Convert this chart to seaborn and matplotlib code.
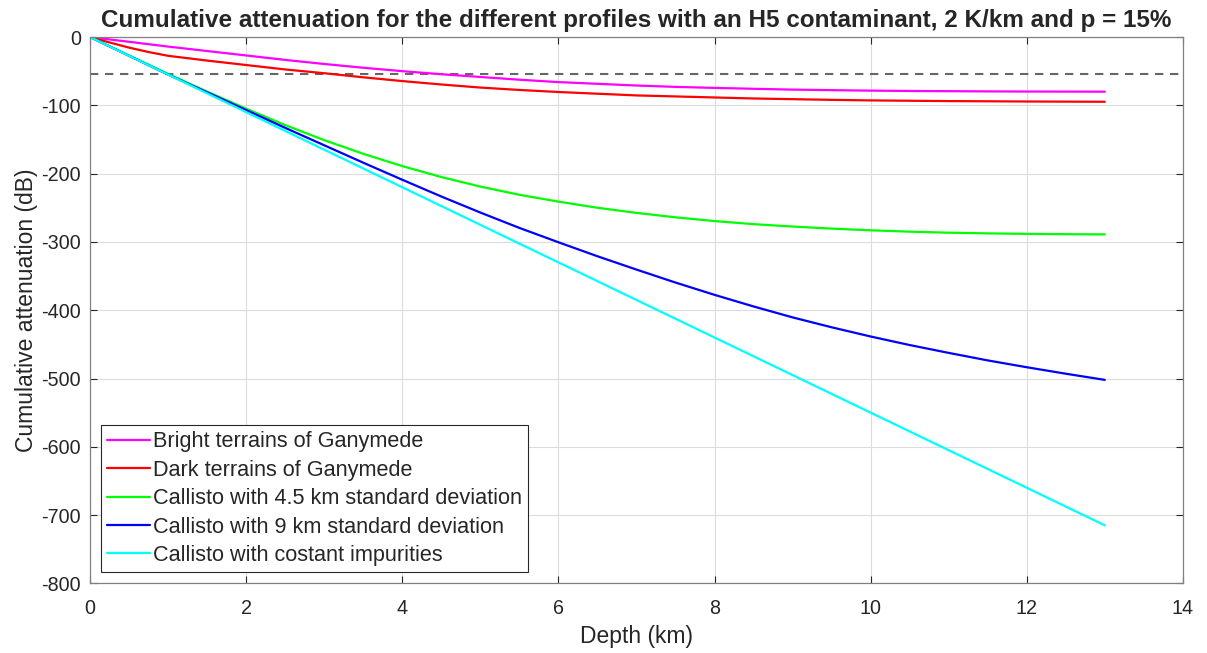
import numpy as np
import pandas as pd
import matplotlib
matplotlib.use("Agg")
import matplotlib.pyplot as plt
import seaborn as sns

# Depth samples (km)
depth = [0, 0.25, 0.5, 0.75, 1, 1.5, 2, 2.5, 3, 3.5, 4, 4.5, 5, 5.5, 6, 6.5,
         7, 7.5, 8, 8.5, 9, 9.5, 10, 10.5, 11, 11.5, 12, 12.5, 13]

# Cumulative attenuation (dB) for each profile
bright_ganymede = [0, -3.5, -7, -10.5, -14, -20.5, -27, -33.5, -39.5, -45, -50, -54.5,
                   -58.5, -62.5, -66, -68.5, -71, -73, -74.5, -75.8, -77, -77.8, -78.5,
                   -79, -79.3, -79.6, -79.8, -79.9, -80]
dark_ganymede = [0, -8, -15.5, -22, -27.5, -34.5, -41, -47.5, -53, -59, -64.5, -69.5,
                 -74, -77.5, -80.5, -83, -85.5, -87, -88.5, -90, -91, -92, -92.8,
                 -93.3, -93.8, -94.1, -94.4, -94.6, -94.8]
callisto_45 = [0, -13.5, -27, -40.5, -54, -80, -105, -129, -151, -171, -189, -205,
               -219, -231, -241, -250, -257.5, -264, -269.5, -274, -277.5, -280.5, -283,
               -285, -286.5, -287.5, -288.2, -288.7, -289]
callisto_9 = [0, -13.75, -27.5, -41.25, -55, -81, -107, -133, -158.5, -184, -209, -233.5,
              -257, -279.5, -300.5, -321, -340.5, -359.5, -377.5, -394.5, -410.5, -425,
              -438.5, -451, -462.5, -473.5, -483.5, -493, -502]
callisto_const = [0, -13.75, -27.5, -41.25, -55, -82.5, -110, -137.5, -165, -192.5, -220,
                  -247.5, -275, -302.5, -330, -357.5, -385, -412.5, -440, -467.5, -495,
                  -522.5, -550, -577.5, -605, -632.5, -660, -687.5, -715]

labels = [
    "Bright terrains of Ganymede",
    "Dark terrains of Ganymede",
    "Callisto with 4.5 km standard deviation",
    "Callisto with 9 km standard deviation",
    "Callisto with costant impurities",
]
colors = ["#FF00FF", "#FF0000", "#00FF00", "#0000FF", "#00FFFF"]
threshold = -54.6

series = [bright_ganymede, dark_ganymede, callisto_45, callisto_9, callisto_const]
df = pd.concat(
    [pd.DataFrame({"Depth": depth, "Attenuation": vals, "Profile": lab})
     for lab, vals in zip(labels, series)],
    ignore_index=True,
)

sns.set_style("white")
plt.rcParams["font.family"] = ["Liberation Sans", "DejaVu Sans"]
plt.rcParams["axes.unicode_minus"] = False

fig = plt.figure(figsize=(12.07, 6.53), dpi=100)
ax = fig.add_axes([0.0746, 0.1066, 0.9054, 0.8367])

sns.lineplot(data=df, x="Depth", y="Attenuation", hue="Profile",
             hue_order=labels, palette=colors, linewidth=1.6, ax=ax,
             legend=True, estimator=None, sort=False)

ax.axhline(threshold, color="#666666", linestyle=(0, (4, 3.2)), linewidth=1.5, zorder=1)

ax.set_xlim(0, 14)
ax.set_ylim(-800, 0)
ax.set_xticks(range(0, 15, 2))
ax.set_yticks(range(-800, 1, 100))
ax.grid(True, color="#DCDCDC", linewidth=0.8)
ax.set_axisbelow(True)
ax.tick_params(direction="in", length=5, width=0.8, colors="#262626",
               labelsize=14.2, top=True, right=True, bottom=True, left=True)
ax.tick_params(axis="x", pad=11)
ax.tick_params(axis="y", pad=6.5)
for s in ax.spines.values():
    s.set_color("#808080")
    s.set_linewidth(0.9)

ax.set_xlabel("Depth (km)", fontsize=16.5, color="#262626", labelpad=5.5)
ax.set_ylabel("Cumulative attenuation (dB)", fontsize=16.5, color="#262626", labelpad=2)
ax.set_title("Cumulative attenuation for the different profiles with an H5 contaminant, 2 K/km and p = 15%",
             fontsize=17.5, fontweight="bold", pad=7)

leg = ax.legend(loc="lower left", bbox_to_anchor=(0.01, 0.02), fontsize=15.6,
                frameon=True, fancybox=False, edgecolor="#262626", framealpha=1,
                handlelength=1.95, handletextpad=0.15, borderpad=0.3, labelspacing=0.34,
                borderaxespad=0)
leg.get_frame().set_linewidth(0.8)

fig.savefig("out.png", dpi=100)
